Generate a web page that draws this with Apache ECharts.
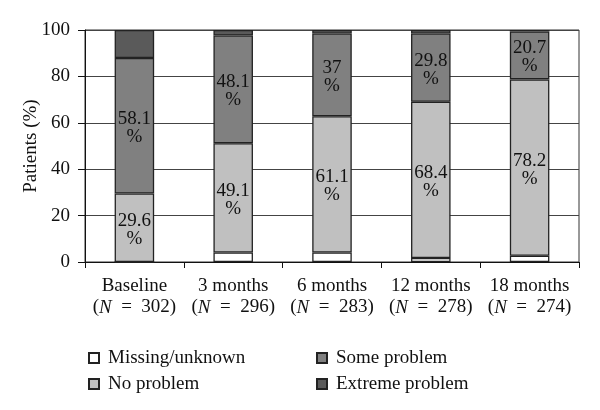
<!DOCTYPE html>
<html>
<head>
<meta charset="utf-8">
<script src="https://cdn.jsdelivr.net/npm/echarts@6/dist/echarts.min.js"></script>
<style>
html,body{margin:0;padding:0;background:#fff;}
#chart{width:600px;height:410px;}
</style>
</head>
<body>
<div id="chart"></div>
<script>
// Data
var categories = ['Baseline', '3 months', '6 months', '12 months', '18 months'];
var sampleSizes = ['302', '296', '283', '278', '274'];
var seriesNames = ['Missing/unknown', 'No problem', 'Some problem', 'Extreme problem'];
var missingVals = [0, 4.1, 4.1, 1.7, 2.7];
var noProblemVals = [29.5, 47.1, 58.7, 67.4, 76.0];
var someProblemVals = [58.4, 46.4, 35.7, 29.4, 20.7];
var extremeVals = [12.1, 2.4, 1.5, 1.5, 0.6];
var noProblemLabels = ['29.6', '49.1', '61.1', '68.4', '78.2'];
var someProblemLabels = ['58.1', '48.1', '37', '29.8', '20.7'];
var yTicks = [0, 20, 40, 60, 80, 100];

var FONT = '"Liberation Serif", "DejaVu Serif", serif';
var colors = ['#ffffff', '#c0c0c0', '#808080', '#5a5a5a'];

function labelCfg(arr) {
  return {
    show: true,
    position: 'inside',
    offset: [0, 2],
    color: '#111',
    fontFamily: FONT,
    fontSize: 19,
    lineHeight: 18,
    formatter: function (p) { return arr[p.dataIndex] + '\n%'; }
  };
}

function mkSeries(name, data, idx, label) {
  return {
    name: name,
    type: 'bar',
    stack: 'total',
    barWidth: '40%',
    data: data,
    itemStyle: { color: colors[idx], borderColor: '#222', borderWidth: 1.3 },
    label: label || { show: false },
    emphasis: { disabled: true }
  };
}

var chart = echarts.init(document.getElementById('chart'), null, { renderer: 'canvas' });
chart.setOption({
  animation: false,
  backgroundColor: '#fff',
  textStyle: { fontFamily: FONT },
  grid: { left: 85, right: 21, top: 30, bottom: 148, show: true, borderColor: '#333', borderWidth: 1 },
  legend: [
    {
      data: [seriesNames[0], seriesNames[1]],
      orient: 'vertical', left: 83, top: 343,
      itemWidth: 10, itemHeight: 10, itemGap: 6, icon: 'rect',
      textStyle: { fontFamily: FONT, fontSize: 19, color: '#111', lineHeight: 20, padding: [0, 0, 0, 4] }
    },
    {
      data: [seriesNames[2], seriesNames[3]],
      orient: 'vertical', left: 311, top: 343,
      itemWidth: 10, itemHeight: 10, itemGap: 6, icon: 'rect',
      textStyle: { fontFamily: FONT, fontSize: 19, color: '#111', lineHeight: 20, padding: [0, 0, 0, 4] }
    }
  ],
  xAxis: {
    type: 'category',
    data: categories,
    axisLine: { lineStyle: { color: '#111', width: 1 } },
    axisTick: { show: true, length: 6, lineStyle: { color: '#111' } },
    axisLabel: {
      interval: 0,
      margin: 14,
      formatter: function (v, i) {
        return '{p|' + v + '}\n{p|(}{i|N}{p|\u2002=\u2002' + sampleSizes[i] + ')}';
      },
      rich: {
        p: { fontFamily: FONT, fontSize: 19, color: '#111', lineHeight: 21 },
        i: { fontFamily: FONT, fontSize: 19, color: '#111', fontStyle: 'italic', lineHeight: 21 }
      }
    }
  },
  yAxis: {
    type: 'value',
    min: yTicks[0], max: yTicks[yTicks.length - 1], interval: yTicks[1] - yTicks[0],
    name: 'Patients (%)',
    nameLocation: 'middle',
    nameGap: 44,
    nameMoveOverlap: false,
    nameTextStyle: { fontFamily: FONT, fontSize: 19, color: '#111' },
    axisLine: { show: true, lineStyle: { color: '#111', width: 1 } },
    axisTick: { show: true, length: 7, lineStyle: { color: '#111' } },
    axisLabel: { margin: 15, fontFamily: FONT, fontSize: 19, color: '#111' },
    splitLine: { show: true, lineStyle: { color: '#444', width: 1 } }
  },
  series: [
    mkSeries(seriesNames[0], missingVals, 0),
    mkSeries(seriesNames[1], noProblemVals, 1, labelCfg(noProblemLabels)),
    mkSeries(seriesNames[2], someProblemVals, 2, labelCfg(someProblemLabels)),
    mkSeries(seriesNames[3], extremeVals, 3)
  ]
});
</script>
</body>
</html>
